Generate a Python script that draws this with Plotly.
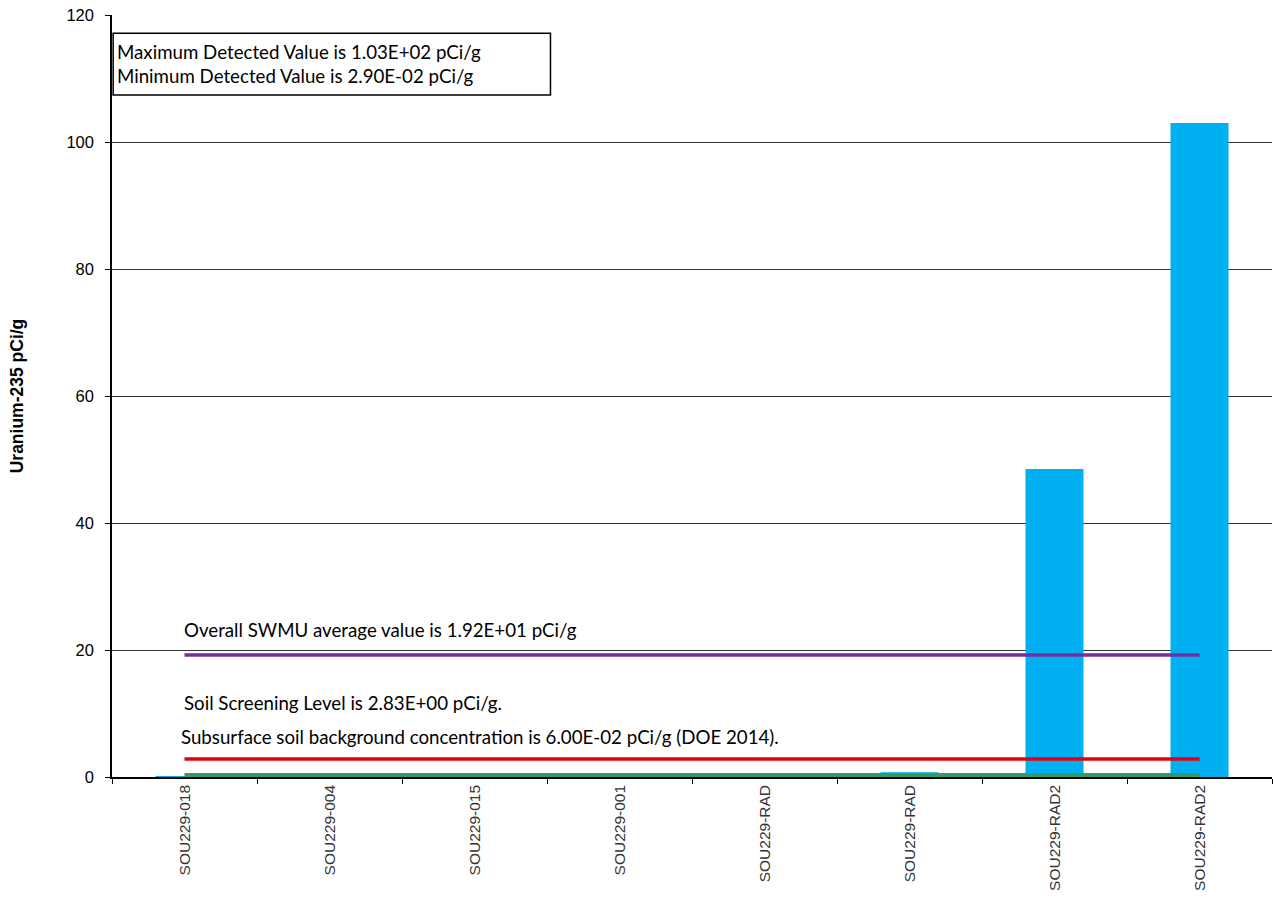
import plotly.graph_objects as go

# ---- data ----
sample_labels = ["SOU229-018", "SOU229-004", "SOU229-015", "SOU229-001",
                 "SOU229-RAD", "SOU229-RAD", "SOU229-RAD2", "SOU229-RAD2"]
u235_values = [0.05, 0.029, 0.04, 0.08, 0.06, 0.75, 48.5, 103.0]
swmu_average = 19.2
soil_screening_level = 2.83
background_conc = 0.06
y_ticks = [0, 20, 40, 60, 80, 100, 120]

x_pos = list(range(len(sample_labels)))
x_ends = [x_pos[0], x_pos[-1]]

text_font = dict(family="Lato, Carlito, Calibri, sans-serif", size=18.7, color="black")
arial = "Arial, Liberation Sans, sans-serif"

fig = go.Figure()
fig.add_trace(go.Bar(x=x_pos, y=u235_values, marker=dict(color="#00B0F0", line=dict(width=0)),
                     width=0.4, showlegend=False))
fig.add_trace(go.Scatter(x=x_ends, y=[swmu_average] * 2, mode="lines",
                         line=dict(color="#7030A0", width=3.5), showlegend=False))
fig.add_trace(go.Scatter(x=x_ends, y=[soil_screening_level] * 2, mode="lines",
                         line=dict(color="#E00010", width=3.5), showlegend=False))
fig.add_trace(go.Scatter(x=x_ends, y=[background_conc] * 2, mode="lines",
                         line=dict(color="#2E9A6E", width=7), showlegend=False))

fig.add_annotation(x=-0.02, y=23.1, xref="x", yref="y", xanchor="left", yanchor="middle",
                   text="Overall SWMU average value is 1.92E+01 pCi/g", showarrow=False, font=text_font)
fig.add_annotation(x=-0.02, y=11.6, xref="x", yref="y", xanchor="left", yanchor="middle",
                   text="Soil Screening Level is 2.83E+00 pCi/g.", showarrow=False, font=text_font)
fig.add_annotation(x=-0.04, y=6.3, xref="x", yref="y", xanchor="left", yanchor="middle",
                   text="Subsurface soil background concentration is 6.00E-02 pCi/g (DOE 2014).",
                   showarrow=False, font=text_font)

# info box
fig.add_shape(type="rect", xref="paper", yref="paper", x0=0.001, x1=0.378, y0=0.895, y1=0.976,
              line=dict(color="black", width=1.5), fillcolor="white", layer="above")
fig.add_annotation(x=0.003, y=0.936, xref="paper", yref="paper", xanchor="left", yanchor="middle",
                   align="left", showarrow=False, font=text_font,
                   text="Maximum Detected Value is 1.03E+02 pCi/g<br>Minimum Detected Value is 2.90E-02 pCi/g")

fig.update_layout(
    width=1273, height=898,
    margin=dict(l=112, r=1, t=15, b=121),
    plot_bgcolor="white", paper_bgcolor="white",
    font=dict(family=arial, color="black"),
)
fig.update_xaxes(
    range=[-0.5, 7.5], tickmode="array", tickvals=x_pos, ticktext=sample_labels,
    tickangle=-90, tickfont=dict(size=15.5, family=arial, color="#333"),
    ticks="", showgrid=False, showline=True, linecolor="black", linewidth=1.5, zeroline=False,
    minor=dict(tickmode="linear", tick0=-0.5, dtick=1, ticks="outside", ticklen=5,
               tickcolor="black", showgrid=False),
)
fig.update_yaxes(
    range=[0, 120], tickmode="array", tickvals=y_ticks,
    tickfont=dict(size=16.5, family=arial, color="black"), ticklabelstandoff=8,
    ticks="outside", ticklen=5, tickcolor="black",
    showgrid=True, gridcolor="#333333", gridwidth=1,
    showline=True, linecolor="black", linewidth=1.5, zeroline=False,
    title=dict(text="<b>Uranium-235 pCi/g</b>", font=dict(size=17.5, family=arial),
               standoff=38),
)

fig.write_html("out.html", post_script="document.body.style.margin='0';",
               config={"displayModeBar": False})
